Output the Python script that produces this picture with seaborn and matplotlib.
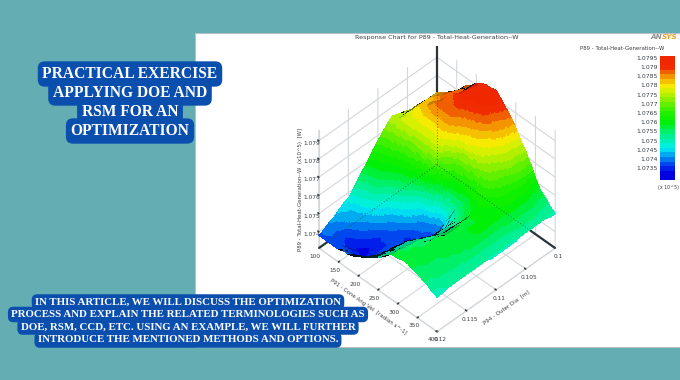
import numpy as np
import matplotlib
matplotlib.use("Agg")
import matplotlib.pyplot as plt
import matplotlib.tri as mtri
from matplotlib.colors import LinearSegmentedColormap, Normalize
from matplotlib.patches import Rectangle
import seaborn as sns

# ---------- data ----------
title = "Response Chart for P89 - Total-Heat-Generation--W"
headline = ["PRACTICAL EXERCISE", "APPLYING DOE AND", "RSM FOR AN", "OPTIMIZATION"]
body = ["IN THIS ARTICLE, WE WILL DISCUSS THE OPTIMIZATION",
        "PROCESS AND EXPLAIN THE RELATED TERMINOLOGIES SUCH AS",
        "DOE, RSM, CCD, ETC. USING AN EXAMPLE, WE WILL FURTHER",
        "INTRODUCE THE MENTIONED METHODS AND OPTIONS."]
# surface height in 1e-4 above 1.07; rows: outer dia 0.12 -> 0.10, columns: ang vel 100 -> 400
z_rows = [
 [38,38,38,38,38,39,39,40,42,43,45,47,49,51,54,56,56,57,57,56,55,54,53,51,50],
 [39,39,38,37,37,37,37,38,40,41,44,46,48,51,53,56,56,57,57,56,55,54,53,51,50],
 [41,39,37,36,35,35,34,36,38,39,42,45,47,50,53,55,56,56,57,56,56,55,54,52,51],
 [42,40,37,35,34,33,32,34,36,38,41,44,47,50,52,55,56,56,57,56,56,55,54,52,51],
 [44,42,39,37,36,34,33,35,36,38,41,44,47,49,52,54,55,56,57,56,56,55,54,52,51],
 [46,43,42,40,38,36,34,35,36,37,40,43,46,49,51,54,55,56,57,57,56,56,54,53,51],
 [47,45,44,42,40,37,35,36,36,37,40,43,46,48,51,53,54,56,57,57,56,56,54,53,51],
 [50,49,48,46,43,40,37,37,36,36,39,42,45,47,50,52,53,56,57,57,57,57,55,53,51],
 [54,52,51,50,47,43,40,38,37,36,38,40,42,45,48,51,53,55,57,57,57,57,55,53,51],
 [57,56,55,54,50,46,42,40,37,35,37,38,40,43,47,50,52,55,57,57,58,58,56,53,51],
 [60,59,58,57,53,50,47,44,40,37,37,37,39,42,47,50,52,55,57,57,58,58,56,53,51],
 [64,62,61,59,57,54,52,48,44,40,39,38,38,41,46,50,52,55,57,58,59,59,56,53,50],
 [67,65,64,62,60,59,57,52,47,42,40,39,37,41,46,50,53,55,58,58,59,59,56,53,50],
 [70,68,68,67,65,64,63,60,57,52,46,42,41,46,50,52,55,57,59,59,59,59,56,53,50],
 [73,72,72,71,70,70,69,68,66,64,56,50,50,52,53,55,57,58,60,60,60,59,56,53,50],
 [75,75,76,76,76,75,75,75,76,76,70,64,58,58,57,57,59,60,62,61,60,59,56,53,50],
 [74,75,77,78,78,78,78,78,79,79,75,70,65,65,64,63,64,64,64,63,61,59,57,53,50],
 [73,75,78,80,81,82,82,82,83,83,80,76,72,72,71,70,69,68,66,64,62,60,57,54,51],
 [72,75,79,82,83,85,86,86,86,86,84,82,80,79,77,76,73,71,68,65,63,60,57,54,51],
 [70,74,78,82,83,85,87,87,88,88,86,85,83,82,80,78,75,72,69,66,63,60,57,54,51],
 [68,73,77,82,84,86,87,88,89,90,89,88,87,85,82,80,77,74,70,67,63,60,57,54,51],
 [66,71,77,82,84,86,88,89,91,92,91,91,90,88,85,83,79,76,72,68,64,60,57,54,51],
 [64,69,74,79,82,84,87,88,91,92,92,92,92,89,86,84,80,76,72,68,63,59,56,53,51],
 [62,66,71,75,79,83,86,88,91,93,93,93,93,91,88,85,81,77,73,68,62,58,55,53,50],
 [60,64,68,72,77,81,86,88,91,93,94,94,95,92,89,86,82,77,73,68,62,57,55,52,50],
]
x_ticks = [100, 150, 200, 250, 300, 350, 400]
y_ticks = [0.1, 0.105, 0.11, 0.115, 0.12]
y_tick_labels = ["0.1", "0.105", "0.11", "0.115", "0.12"]
z_ticks = [1.074, 1.075, 1.076, 1.077, 1.078, 1.079]
cbar_ticks = [1.0795, 1.079, 1.0785, 1.078, 1.0775, 1.077, 1.0765,
              1.076, 1.0755, 1.075, 1.0745, 1.074, 1.0735]
cbar_tick_labels = ["1.0795", "1.079", "1.0785", "1.078", "1.0775", "1.077", "1.0765",
                    "1.076", "1.0755", "1.075", "1.0745", "1.074", "1.0735"]
cmap_values = [1.0731, 1.0735, 1.074, 1.0745, 1.075, 1.0755, 1.076, 1.0765,
               1.077, 1.0775, 1.078, 1.0785, 1.0788, 1.0791, 1.0796]
cmap_colors = ["#0000E0", "#0030F0", "#0090F0", "#00F0F0", "#00F0B0", "#00F060", "#00F000", "#20F000",
               "#60F000", "#B0F000", "#F5F000", "#F5A000", "#F06400", "#F02800", "#F02800"]

# ---------- style ----------
W, H = 680, 380
TEAL, BLUE, GRID, INK = "#63ADB3", "#0B4FAE", "#D3D7D9", "#3A3F44"
sns.set_theme(style="white", rc={"figure.dpi": 100, "savefig.dpi": 100})
plt.rcParams["font.family"] = ["DejaVu Sans"]
fig = plt.figure(figsize=(W / 100, H / 100), facecolor=TEAL)
fig.add_artist(Rectangle((195 / W, 1 - 347 / H), 490 / W, 314 / H, transform=fig.transFigure,
                         fc="white", ec="#B8BCBE", lw=0.6, zorder=-5))

Z = 1.07 + np.array(z_rows, float) * 1e-4
n_rows, n_cols = Z.shape
xv = np.linspace(100, 400, n_cols)
yv = np.linspace(0.12, 0.10, n_rows)
X, Y = np.meshgrid(xv, yv)
ZMIN, ZMAX = 1.0731, 1.0796
norm = Normalize(ZMIN, ZMAX)
cmap = LinearSegmentedColormap.from_list(
    "resp", [((v - ZMIN) / (ZMAX - ZMIN), c) for v, c in zip(cmap_values, cmap_colors)], N=26)

# ---------- 3D response surface ----------
ax = fig.add_axes([292.7 / W, 46.7 / H, 281 / W, 281 / H], projection="3d", computed_zorder=False)
ax.patch.set_alpha(0)
ax.set_proj_type("ortho")
ax.view_init(elev=45, azim=-45)
ax.set_box_aspect((1, 1, 1))
ax.set_xlim(100, 400, view_margin=0)
ax.set_ylim(0.12, 0.10, view_margin=0)
ax.set_zlim(ZMIN, ZMAX, view_margin=0)

# The table above is the surface's geometry. mplot3d has no Gouraud shading, so the facets are
# split linearly (the shape does not change) to let the colour vary inside each cell.
idx = np.arange(n_rows * n_cols).reshape(n_rows, n_cols)
tris = np.vstack([np.c_[idx[:-1, :-1].ravel(), idx[:-1, 1:].ravel(), idx[1:, 1:].ravel()],
                  np.c_[idx[:-1, :-1].ravel(), idx[1:, 1:].ravel(), idx[1:, :-1].ravel()]])
U = (X - 100) / 300
V = (0.12 - Y) / 0.02
base = mtri.Triangulation(U.ravel(), V.ravel(), tris)
fine, fine_z = mtri.UniformTriRefiner(base).refine_field(
    Z.ravel(), triinterpolator=mtri.LinearTriInterpolator(base, Z.ravel()), subdiv=2)
fx = 100 + 300 * fine.x
fy = 0.12 - 0.02 * fine.y
surf = ax.plot_trisurf(mtri.Triangulation(fx, fy, fine.triangles), fine_z, shade=False,
                       linewidth=0, antialiased=False, zorder=2)

# darken the faces that the view grazes, where the reference's mesh packs to black
Pn = np.c_[fine.x, fine.y, (fine_z - ZMIN) / (ZMAX - ZMIN)][fine.triangles]
nrm = np.cross(Pn[:, 1] - Pn[:, 0], Pn[:, 2] - Pn[:, 0])
cam = np.array([0.5, -0.5, np.sqrt(0.5)])
graze = np.abs(nrm @ cam) / np.linalg.norm(nrm, axis=1)
fc = cmap(norm(fine_z[fine.triangles].mean(axis=1)))
fc[:, :3] *= np.clip((graze / 0.3) ** 2, 0.1, 1)[:, None]
surf.set_facecolor(fc)

frame = [((100, 100), (0.1, 0.1), (ZMIN, ZMAX)),
         ((100, 100), (0.1, 0.12), (ZMIN, ZMIN)),
         ((100, 400), (0.1, 0.1), (ZMIN, ZMIN))]
for lx, ly, lz in frame:
    ax.plot(lx, ly, lz, color="#2B3136", lw=1.6, zorder=1, solid_capstyle="butt", clip_on=False)
for lx, ly, lz in frame:
    ax.plot(lx, ly, lz, color="#0B5A55", lw=0.6, ls=(0, (1, 2.5)), zorder=3, clip_on=False)

for axis in (ax.xaxis, ax.yaxis, ax.zaxis):
    axis.set_pane_color((1, 1, 1, 0))
    axis.pane.set_edgecolor(GRID)
    axis.pane.set_linewidth(0.8)
    axis.line.set_color(GRID)
    axis.line.set_linewidth(0.8)
    axis._axinfo["grid"].update(color=GRID, linewidth=0.8)
    axis._axinfo["tick"].update(inward_factor=0.0, outward_factor=0.1)
ax.grid(True)
ax.zaxis._axinfo["juggled"] = (1, 2, 0)
ax.set_xticks(x_ticks, [str(t) for t in x_ticks])
ax.set_yticks(y_ticks, y_tick_labels)
ax.set_zticks(z_ticks, [str(t) for t in z_ticks])
ax.tick_params(axis="both", labelsize=4.2, colors=INK, pad=-5)
ax.set_xlabel("P91 - Cone Ang Vel  [radian s^-1]", fontsize=4.0, color=INK, labelpad=-12)
ax.set_ylabel("P94 - Outer Dia  [m]", fontsize=4.0, color=INK, labelpad=-12)
ax.set_zlabel("P89 - Total-Heat-Generation--W  (x10^5)  [W]", fontsize=3.9, color=INK, labelpad=-13)

# ---------- colour legend ----------
band_step = 0.00025
bands = np.arange(ZMAX, ZMIN - 1e-9, -band_step)
cax = fig.add_axes([660 / W, 1 - 180 / H, 15 / W, 124 / H])
sns.heatmap(np.c_[bands - band_step / 2], ax=cax, cmap=cmap, norm=norm, cbar=False,
            xticklabels=False, yticklabels=False)
cax.set_yticks([(ZMAX - t) / band_step for t in cbar_ticks], cbar_tick_labels)
cax.tick_params(axis="y", labelsize=4.4, colors=INK, pad=1.5, length=0, rotation=0, left=False)

# ---------- texts ----------
def px_text(x, y, s, **kw):
    fig.text(x / W, 1 - y / H, s, ha="center", va="center", **kw)

px_text(437, 37, title, fontsize=4.6, color=INK)
px_text(622, 49, "P89 - Total-Heat-Generation--W", fontsize=3.9, color=INK)
px_text(668, 187, "(x 10^5)", fontsize=3.4, color=INK)
fig.text(650 / W, 1 - 37 / H, "AN", fontsize=5.2, fontweight="bold", style="italic", color="#8C8F92",
         ha="left", va="center")
fig.text(662 / W, 1 - 37 / H, "SYS", fontsize=5.2, fontweight="bold", style="italic", color="#E8A020",
         ha="left", va="center")

serif = ["Liberation Serif"]
for yy, s in zip([74, 93, 112, 131], headline):
    px_text(130, yy, s, fontsize=11.2, color="white", fontweight="bold", family=serif, zorder=5,
            bbox=dict(boxstyle="round,pad=0.3,rounding_size=0.45", fc=BLUE, ec="none"))
for yy, s in zip([302, 314.5, 327, 340], body):
    px_text(188, yy, s, fontsize=7.8, color="white", fontweight="bold", family=serif, zorder=5,
            bbox=dict(boxstyle="round,pad=0.3,rounding_size=0.5", fc=BLUE, ec="none"))

fig.savefig("out.png", dpi=100, facecolor=TEAL)
